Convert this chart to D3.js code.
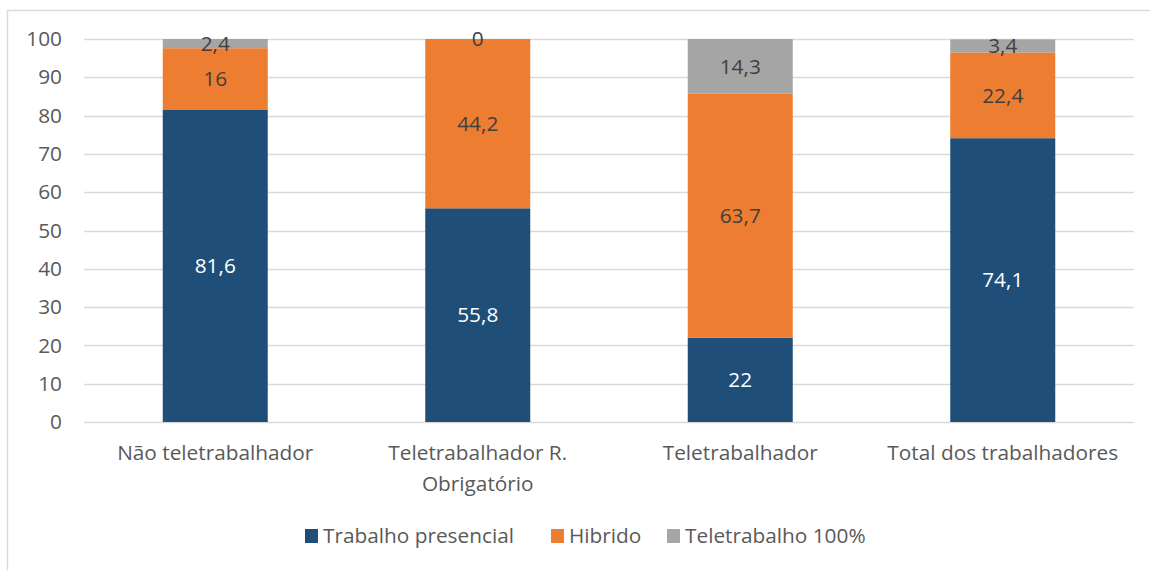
<!DOCTYPE html>
<html><head><meta charset="utf-8">
<script src="https://cdn.jsdelivr.net/npm/d3@7"></script>
<style>body{margin:0;background:#fff;}svg{display:block;font-family:"Open Sans",sans-serif;}</style>
</head><body><svg id="c" width="1150" height="570"></svg>
<script>
const categories = [["Não teletrabalhador"], ["Teletrabalhador R.", "Obrigatório"], ["Teletrabalhador"], ["Total dos trabalhadores"]];
const seriesNames = ["Trabalho presencial", "Hibrido", "Teletrabalho 100%"];
const presencial = [81.6, 55.8, 22, 74.1];
const hibrido = [16, 44.2, 63.7, 22.4];
const tele100 = [2.4, 0, 14.3, 3.4];
const yTicks = [0, 10, 20, 30, 40, 50, 60, 70, 80, 90, 100];
const colors = ["#1F4E79", "#ED7D31", "#A5A5A5"];
const labelColors = ["#ffffff", "#404040", "#404040"];
const FS = "20.8px";

const svg = d3.select("#c");
svg.append("rect").attr("x", 7.5).attr("y", 10.5).attr("width", 1160).attr("height", 600)
  .attr("fill", "none").attr("stroke", "#d9d9d9").attr("stroke-width", 1.5);

const x = d3.scaleBand().domain(d3.range(categories.length)).range([84, 1134]).paddingInner(0.6).paddingOuter(0.3);
const y = d3.scaleLinear().domain([0, 100]).range([422, 39]);

const grid = svg.append("g");
grid.selectAll("line").data(yTicks).join("line")
  .attr("x1", 84).attr("x2", 1134).attr("y1", d => Math.round(y(d)) + 0.5).attr("y2", d => Math.round(y(d)) + 0.5)
  .attr("stroke", "#d9d9d9").attr("stroke-width", 1.5);

const yAxis = d3.axisLeft(y).tickValues(yTicks).tickSize(0).tickPadding(22);
const ya = svg.append("g").attr("transform", "translate(84,0)").call(yAxis);
ya.select(".domain").remove();
ya.selectAll("text").attr("fill", "#595959").style("font-size", FS).style("font-family", "'Open Sans',sans-serif");

const series = [presencial, hibrido, tele100];
const stack = categories.map((c, i) => {
  let acc = 0;
  return series.map((s, k) => { const y0 = acc; acc += s[i]; return {i, k, y0, y1: acc, v: s[i]}; });
});
const segs = stack.flat();

svg.append("g").selectAll("rect").data(segs.filter(d => d.v > 0)).join("rect")
  .attr("x", d => x(d.i)).attr("width", x.bandwidth())
  .attr("y", d => y(Math.min(d.y1, 100))).attr("height", d => y(d.y0) - y(Math.min(d.y1, 100)))
  .attr("fill", d => colors[d.k]);

svg.append("g").selectAll("text").data(segs).join("text")
  .attr("x", d => x(d.i) + x.bandwidth() / 2)
  .attr("y", d => y((d.y0 + d.y1) / 2))
  .attr("dy", "0.35em").attr("text-anchor", "middle")
  .attr("fill", d => labelColors[d.k]).style("font-size", FS)
  .text(d => String(d.v).replace(".", ","));

const xl = svg.append("g");
categories.forEach((lines, i) => {
  const t = xl.append("text").attr("x", x(i) + x.bandwidth() / 2).attr("y", 460)
    .attr("text-anchor", "middle").attr("fill", "#595959").style("font-size", FS);
  lines.forEach((l, j) => t.append("tspan").attr("x", x(i) + x.bandwidth() / 2).attr("dy", j ? 31 : 0).text(l));
});

const legendX = [305, 551, 667];
const lg = svg.append("g");
seriesNames.forEach((n, k) => {
  lg.append("rect").attr("x", legendX[k]).attr("y", 529).attr("width", 13).attr("height", 14).attr("fill", colors[k]);
  lg.append("text").attr("x", legendX[k] + 18).attr("y", 543).attr("fill", "#595959").style("font-size", FS).text(n);
});
</script></body></html>
